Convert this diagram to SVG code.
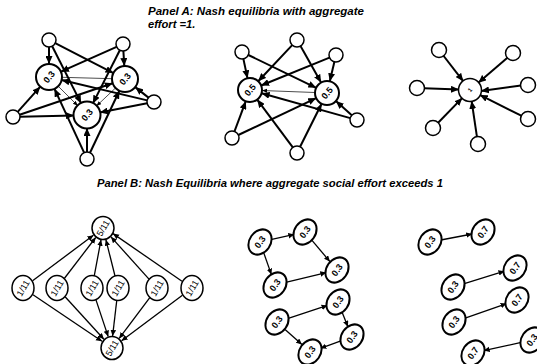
<svg xmlns="http://www.w3.org/2000/svg" width="537" height="364" viewBox="0 0 537 364">
<defs>
<marker id="ah" markerUnits="userSpaceOnUse" markerWidth="9" markerHeight="7" refX="8" refY="3.5" orient="auto"><path d="M0,0 L8,3.5 L0,7 z" fill="#000"/></marker>
<marker id="am" markerUnits="userSpaceOnUse" markerWidth="7" markerHeight="6" refX="6" refY="2.75" orient="auto"><path d="M0,0 L6,2.75 L0,5.5 z" fill="#000"/></marker>
<marker id="as" markerUnits="userSpaceOnUse" markerWidth="6" markerHeight="5" refX="5" refY="2" orient="auto"><path d="M0,0 L5,2 L0,4 z" fill="#000"/></marker>
</defs>
<style>
.title{font-family:"Liberation Sans",Arial,sans-serif;font-size:11.2px;font-weight:bold;font-style:italic;fill:#000}
.lbl{font-family:"Liberation Sans",Arial,sans-serif;font-size:9px;font-weight:bold;fill:#000;text-anchor:middle}
.lblr{font-family:"Liberation Sans",Arial,sans-serif;font-size:9px;fill:#000;text-anchor:middle}
.nb{fill:#fff;stroke:#000;stroke-width:2}
.ns{fill:#fff;stroke:#000;stroke-width:1.5}
.thick{stroke:#000;stroke-width:2;fill:none;marker-end:url(#ah)}
.thin{stroke:#000;stroke-width:0.7;fill:none;marker-end:url(#as)}
.med{stroke:#000;stroke-width:1.3;fill:none;marker-end:url(#am)}
</style>
<text class="title" x="148" y="15" textLength="216" lengthAdjust="spacingAndGlyphs">Panel A: Nash equilibria with aggregate</text>
<text class="title" x="148" y="27.5">effort =1.</text>
<text class="title" x="97" y="187" textLength="346" lengthAdjust="spacingAndGlyphs">Panel B: Nash Equilibria where aggregate social effort exceeds 1</text>

<g id="connectors">
<!-- Panel A left -->
<line class="thick" x1="49" y1="47" x2="49" y2="64"/>
<line class="thick" x1="55.2" y1="43.2" x2="113.4" y2="73.1"/>
<line class="thick" x1="52.2" y1="46.2" x2="81.1" y2="103.4"/>
<line class="thick" x1="123.4" y1="51" x2="124.3" y2="66"/>
<line class="thick" x1="116.6" y1="46.8" x2="60.9" y2="71.7"/>
<line class="thick" x1="119.8" y1="50.2" x2="92.9" y2="103.4"/>
<line class="thick" x1="17.7" y1="111.8" x2="40.3" y2="86.7"/>
<line class="thick" x1="19.6" y1="114.8" x2="112.7" y2="83.2"/>
<line class="thick" x1="20" y1="116.8" x2="74" y2="115.4"/>
<line class="thick" x1="148.5" y1="97.6" x2="135.2" y2="87.1"/>
<line class="thick" x1="147.2" y1="100.4" x2="61.6" y2="80"/>
<line class="thick" x1="147.1" y1="103.3" x2="99.8" y2="112.5"/>
<line class="thick" x1="87" y1="152" x2="87" y2="128"/>
<line class="thick" x1="84.1" y1="152.6" x2="54.5" y2="88.8"/>
<line class="thick" x1="90" y1="152.7" x2="119.4" y2="90.7"/>
<line stroke="#000" stroke-width="0.7" x1="62" y1="77.3" x2="112" y2="78.7"/>
<line class="thin" x1="58.2" y1="86.2" x2="77.8" y2="105.8"/>
<line class="thin" x1="115.6" y1="87.9" x2="96.4" y2="106.1"/>
<!-- Panel A middle -->
<line class="thick" x1="243.4" y1="58.9" x2="247.5" y2="78.3"/>
<line class="thick" x1="248.3" y1="55" x2="316.2" y2="87.8"/>
<line class="thick" x1="292.2" y1="45.1" x2="258.2" y2="81.3"/>
<line class="thick" x1="300.5" y1="46.1" x2="321.1" y2="82.6"/>
<line class="thick" x1="334.4" y1="61.8" x2="329.8" y2="81.3"/>
<line class="thick" x1="329.5" y1="57.6" x2="261.1" y2="85.5"/>
<line class="thick" x1="351.8" y1="115.3" x2="335.9" y2="101"/>
<line class="thick" x1="350.3" y1="118.1" x2="261.6" y2="93.2"/>
<line class="thick" x1="234.5" y1="131.4" x2="245.8" y2="101.2"/>
<line class="thick" x1="238.3" y1="135" x2="316.2" y2="98.1"/>
<line class="thick" x1="292.8" y1="147.4" x2="257.2" y2="99.6"/>
<line class="thick" x1="300.1" y1="146.7" x2="321.6" y2="103.7"/>
<line class="thin" x1="315" y1="92.5" x2="262" y2="90.5"/>
<!-- Panel A right -->
<line class="thick" x1="443.3" y1="55.5" x2="463.3" y2="81.3"/>
<line class="thick" x1="507.7" y1="57.6" x2="478.3" y2="82.8"/>
<line class="thick" x1="424" y1="88.3" x2="459" y2="89.6"/>
<line class="thick" x1="521" y1="85.6" x2="481" y2="91"/>
<line class="thick" x1="437.9" y1="123" x2="462.3" y2="97.9"/>
<line class="thick" x1="521.7" y1="115.9" x2="479.8" y2="94.9"/>
<line class="thick" x1="477" y1="137.1" x2="471.6" y2="100.9"/>
<!-- Panel B left -->
<line class="med" x1="32.6" y1="280.8" x2="93.4" y2="235.2"/>
<line class="med" x1="64.3" y1="278.5" x2="95.7" y2="237.5"/>
<line class="med" x1="94.2" y1="276.2" x2="101" y2="239.8"/>
<line class="med" x1="115.1" y1="276.3" x2="105.9" y2="239.7"/>
<line class="med" x1="149" y1="279.1" x2="111" y2="236.9"/>
<line class="med" x1="182" y1="281.3" x2="113" y2="233.6"/>
<line class="med" x1="33" y1="294.7" x2="102" y2="341.3"/>
<line class="med" x1="65.1" y1="296.8" x2="103.9" y2="339.2"/>
<line class="med" x1="95.8" y1="299.4" x2="108.2" y2="336.6"/>
<line class="med" x1="116.8" y1="300" x2="112.6" y2="336"/>
<line class="med" x1="149.8" y1="297.6" x2="119.2" y2="338.4"/>
<line class="med" x1="182.4" y1="295.2" x2="121.6" y2="340.8"/>
<!-- Panel B middle -->
<line class="med" x1="270.7" y1="239.6" x2="294.3" y2="234.4"/>
<line class="med" x1="312" y1="240.4" x2="329.9" y2="261.6"/>
<line class="med" x1="263.6" y1="252.4" x2="271.4" y2="274.6"/>
<line class="med" x1="285.7" y1="282.4" x2="326.3" y2="272.6"/>
<line class="med" x1="287.5" y1="318.6" x2="327.5" y2="305.4"/>
<line class="med" x1="342.1" y1="312.2" x2="347.9" y2="326.8"/>
<line class="med" x1="341.6" y1="340.7" x2="320.4" y2="348.3"/>
<line class="med" x1="285.1" y1="329.4" x2="301.9" y2="344.6"/>
<!-- Panel B right -->
<line class="med" x1="440.8" y1="240" x2="472.2" y2="234"/>
<line class="med" x1="463.5" y1="283.8" x2="504.5" y2="271.2"/>
<line class="med" x1="464.4" y1="318.4" x2="506.6" y2="303.6"/>
<line class="med" x1="521.3" y1="342.4" x2="483.7" y2="350.6"/>
</g>

<!-- Panel A left nodes -->
<g id="a1-L"><circle class="nb" cx="49" cy="77" r="13"/><text class="lbl" transform="translate(49,77) rotate(-50)" dy="3.2">0.3</text></g>
<g id="a1-R"><circle class="nb" cx="125" cy="79" r="13"/><text class="lbl" transform="translate(125,79) rotate(-50)" dy="3.2">0.3</text></g>
<g id="a1-M"><circle class="nb" cx="87" cy="115" r="13.5"/><text class="lbl" transform="translate(87,115) rotate(-50)" dy="3.2">0.3</text></g>
<g id="a1-s1"><circle class="ns" cx="49" cy="40" r="7"/></g>
<g id="a1-s2"><circle class="ns" cx="123" cy="44" r="7"/></g>
<g id="a1-s3"><circle class="ns" cx="13" cy="117" r="7"/></g>
<g id="a1-s4"><circle class="ns" cx="154" cy="102" r="7"/></g>
<g id="a1-s5"><circle class="ns" cx="87" cy="159" r="7"/></g>

<!-- Panel A middle nodes -->
<g id="a2-P"><circle class="nb" cx="250" cy="90" r="12"/><text class="lbl" transform="translate(250,90) rotate(-50)" dy="3.2">0.5</text></g>
<g id="a2-Q"><circle class="nb" cx="327" cy="93" r="12"/><text class="lbl" transform="translate(327,93) rotate(-50)" dy="3.2">0.5</text></g>
<g id="a2-s1"><circle class="ns" cx="242" cy="52" r="7"/></g>
<g id="a2-s2"><circle class="ns" cx="297" cy="40" r="7"/></g>
<g id="a2-s3"><circle class="ns" cx="336" cy="55" r="7"/></g>
<g id="a2-s4"><circle class="ns" cx="357" cy="120" r="7"/></g>
<g id="a2-s5"><circle class="ns" cx="232" cy="138" r="7"/></g>
<g id="a2-s6"><circle class="ns" cx="297" cy="153" r="7"/></g>

<!-- Panel A right nodes -->
<g id="a3-C"><circle class="ns" cx="470" cy="90" r="11.5"/><text class="lbl" style="font-size:6px" transform="translate(470,90) rotate(-50)" dy="2">1</text></g>
<g id="a3-s1"><circle class="ns" cx="439" cy="50" r="7.5"/></g>
<g id="a3-s2"><circle class="ns" cx="513" cy="53" r="7.5"/></g>
<g id="a3-s3"><circle class="ns" cx="417" cy="88" r="7.5"/></g>
<g id="a3-s4"><circle class="ns" cx="528" cy="85" r="7.5"/></g>
<g id="a3-s5"><circle class="ns" cx="433" cy="128" r="7.5"/></g>
<g id="a3-s6"><circle class="ns" cx="528" cy="119" r="7.5"/></g>
<g id="a3-s7"><circle class="ns" cx="478" cy="144" r="7.5"/></g>

<!-- Panel B left nodes -->
<g id="b1-T"><ellipse class="ns" cx="103" cy="228" rx="11" ry="11.5"/><text class="lblr" transform="translate(103,228) rotate(-60)" dy="3.2">5/11</text></g>
<g id="b1-B"><ellipse class="ns" cx="112" cy="348" rx="11" ry="11.5"/><text class="lblr" transform="translate(112,348) rotate(-60)" dy="3.2">5/11</text></g>
<g id="b1-m1"><ellipse class="ns" cx="23" cy="288" rx="11" ry="12.5"/><text class="lblr" transform="translate(23,288) rotate(-60)" dy="3.2">1/11</text></g>
<g id="b1-m2"><ellipse class="ns" cx="57" cy="288" rx="11" ry="12.5"/><text class="lblr" transform="translate(57,288) rotate(-60)" dy="3.2">1/11</text></g>
<g id="b1-m3"><ellipse class="ns" cx="92" cy="288" rx="11" ry="12.5"/><text class="lblr" transform="translate(92,288) rotate(-60)" dy="3.2">1/11</text></g>
<g id="b1-m4"><ellipse class="ns" cx="118" cy="288" rx="11" ry="12.5"/><text class="lblr" transform="translate(118,288) rotate(-60)" dy="3.2">1/11</text></g>
<g id="b1-m5"><ellipse class="ns" cx="157" cy="288" rx="11" ry="12.5"/><text class="lblr" transform="translate(157,288) rotate(-60)" dy="3.2">1/11</text></g>
<g id="b1-m6"><ellipse class="ns" cx="192" cy="288" rx="11" ry="12.5"/><text class="lblr" transform="translate(192,288) rotate(-60)" dy="3.2">1/11</text></g>

<!-- Panel B middle nodes -->
<g id="b2-A"><ellipse class="nb" cx="260" cy="242" rx="13.5" ry="10.5" transform="rotate(-55 260 242)"/><text class="lbl" transform="translate(260,242) rotate(-55)" dy="3.2">0.3</text></g>
<g id="b2-B"><ellipse class="nb" cx="305" cy="232" rx="13.5" ry="10.5" transform="rotate(-55 305 232)"/><text class="lbl" transform="translate(305,232) rotate(-55)" dy="3.2">0.3</text></g>
<g id="b2-C"><ellipse class="nb" cx="337" cy="270" rx="13.5" ry="10.5" transform="rotate(-55 337 270)"/><text class="lbl" transform="translate(337,270) rotate(-55)" dy="3.2">0.3</text></g>
<g id="b2-D"><ellipse class="nb" cx="275" cy="285" rx="13.5" ry="10.5" transform="rotate(-55 275 285)"/><text class="lbl" transform="translate(275,285) rotate(-55)" dy="3.2">0.3</text></g>
<g id="b2-E"><ellipse class="nb" cx="338" cy="302" rx="13.5" ry="10.5" transform="rotate(-55 338 302)"/><text class="lbl" transform="translate(338,302) rotate(-55)" dy="3.2">0.3</text></g>
<g id="b2-F"><ellipse class="nb" cx="277" cy="322" rx="13.5" ry="10.5" transform="rotate(-55 277 322)"/><text class="lbl" transform="translate(277,322) rotate(-55)" dy="3.2">0.3</text></g>
<g id="b2-G"><ellipse class="nb" cx="352" cy="337" rx="13.5" ry="10.5" transform="rotate(-55 352 337)"/><text class="lbl" transform="translate(352,337) rotate(-55)" dy="3.2">0.3</text></g>
<g id="b2-H"><ellipse class="nb" cx="310" cy="352" rx="13.5" ry="10.5" transform="rotate(-55 310 352)"/><text class="lbl" transform="translate(310,352) rotate(-55)" dy="3.2">0.3</text></g>

<!-- Panel B right nodes -->
<g id="b3-p1a"><ellipse class="nb" cx="430" cy="242" rx="13.5" ry="10.5" transform="rotate(-55 430 242)"/><text class="lbl" transform="translate(430,242) rotate(-55)" dy="3.2">0.3</text></g>
<g id="b3-p1b"><ellipse class="nb" cx="483" cy="232" rx="13.5" ry="10.5" transform="rotate(-55 483 232)"/><text class="lbl" transform="translate(483,232) rotate(-55)" dy="3.2">0.7</text></g>
<g id="b3-p2a"><ellipse class="nb" cx="453" cy="287" rx="13.5" ry="10.5" transform="rotate(-55 453 287)"/><text class="lbl" transform="translate(453,287) rotate(-55)" dy="3.2">0.3</text></g>
<g id="b3-p2b"><ellipse class="nb" cx="515" cy="268" rx="13.5" ry="10.5" transform="rotate(-55 515 268)"/><text class="lbl" transform="translate(515,268) rotate(-55)" dy="3.2">0.7</text></g>
<g id="b3-p3a"><ellipse class="nb" cx="454" cy="322" rx="13.5" ry="10.5" transform="rotate(-55 454 322)"/><text class="lbl" transform="translate(454,322) rotate(-55)" dy="3.2">0.3</text></g>
<g id="b3-p3b"><ellipse class="nb" cx="517" cy="300" rx="13.5" ry="10.5" transform="rotate(-55 517 300)"/><text class="lbl" transform="translate(517,300) rotate(-55)" dy="3.2">0.7</text></g>
<g id="b3-p4a"><ellipse class="nb" cx="532" cy="340" rx="13.5" ry="10.5" transform="rotate(-55 532 340)"/><text class="lbl" transform="translate(532,340) rotate(-55)" dy="3.2">0.3</text></g>
<g id="b3-p4b"><ellipse class="nb" cx="473" cy="353" rx="13.5" ry="10.5" transform="rotate(-55 473 353)"/><text class="lbl" transform="translate(473,353) rotate(-55)" dy="3.2">0.7</text></g>
</svg>
